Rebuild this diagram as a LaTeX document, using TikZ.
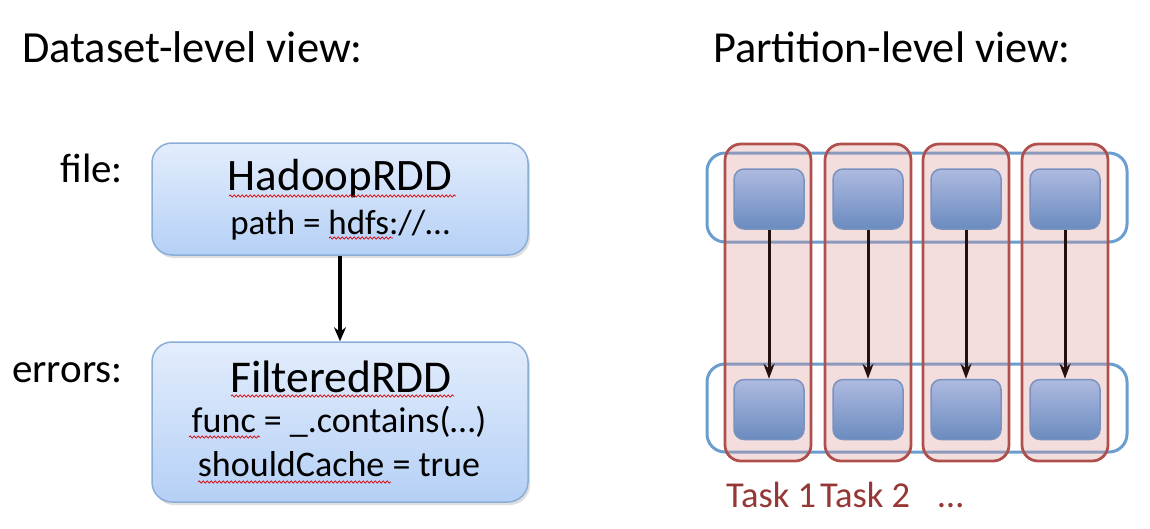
\documentclass[tikz,border=0pt]{standalone}
\usepackage{fontspec}
\setmainfont{Carlito}
\usetikzlibrary{arrows.meta,shadows,decorations.pathmorphing}
\definecolor{boxtop}{HTML}{E3EDFC}
\definecolor{boxbot}{HTML}{B5D0F6}
\definecolor{boxline}{HTML}{8AAED8}
\definecolor{rowblue}{HTML}{6A9ED0}
\definecolor{colred}{HTML}{B0504D}
\definecolor{colfill}{HTML}{D9918F}
\definecolor{sqtop}{HTML}{AEBAE0}
\definecolor{sqbot}{HTML}{6A8BBF}
\definecolor{sqline}{HTML}{7A93BE}
\definecolor{tasktext}{HTML}{953734}
\definecolor{parrow}{HTML}{231010}
\newcommand\fsz[1]{\fontsize{#1}{#1}\selectfont}
\tikzset{
  rddbox/.style={draw=boxline, line width=1.5pt, rounded corners=20pt,
    top color=boxtop, bottom color=boxbot,
    drop shadow={shadow xshift=2pt, shadow yshift=-3pt, opacity=0.25}},
  rowbox/.style={draw=rowblue, line width=3pt, rounded corners=18pt, minimum width=420pt},
  taskcol/.style={draw=colred, line width=2.8pt, rounded corners=16pt,
    fill=colfill, fill opacity=0.3, minimum width=86pt, minimum height=317pt},
  part/.style={draw=sqline, line width=1.5pt, rounded corners=10pt,
    top color=sqtop, bottom color=sqbot, minimum width=70pt, minimum height=60pt},
  larr/.style={line width=3.2pt, -{Stealth[length=14pt,width=12pt]}},
  parr/.style={draw=parrow, line width=3pt, -{Stealth[length=15pt,width=11pt]}},
  squig/.style={draw=red!85!black, line width=0.7pt,
    decorate, decoration={snake, segment length=4pt, amplitude=1.1pt}},
  txt/.style={anchor=base, inner sep=0pt},
}
\begin{document}
\begin{tikzpicture}[x=1pt,y=-1pt]
\useasboundingbox (0,0) rectangle (1150,528);

% headings
\node[txt, anchor=base west, font=\fsz{44.5}] (h1) at (22,62) {Dataset-level view:};
\node[txt, anchor=base west, font=\fsz{44.3}] (h2) at (713,62) {Partition-level view:};

% left side
\node[txt, anchor=base east, font=\fsz{41}] (lfile) at (123,182) {file:};
\node[txt, anchor=base east, font=\fsz{41}] (lerr) at (123,382) {errors:};

\node[rddbox, minimum width=376pt, minimum height=112pt] (hadoop) at (340,199) {};
\node[rddbox, minimum width=376pt, minimum height=160pt] (filtered) at (340,422) {};

\node[txt, font=\fsz{45}] (hname) at (340,190) {HadoopRDD};
\node[txt, font=\fsz{35}] (hpath) at (340,234) {path = hdfs://…};
\node[txt, font=\fsz{45.5}] (fname) at (341,392) {FilteredRDD};
\node[txt, font=\fsz{36}] (ffunc) at (339,432) {func = \_.contains(…)};
\node[txt, font=\fsz{36}] (fcache) at (339,476) {shouldCache = true};

% spell-check squiggles
\draw[squig] (229,196) -- (456,196);
\draw[squig] (329,238) -- (393,238);
\draw[squig] (231,396) -- (454,396);
\draw[squig] (189,437) -- (260,437);
\draw[squig] (198,482) -- (391,482);

\draw[larr] (hadoop.south) -- (filtered.north);

% right side
\node[rowbox, minimum height=89pt] (row1) at (917,197.5) {};
\node[rowbox, minimum height=88pt] (row2) at (917,408) {};

\foreach \i/\x in {1/768,2/868,3/966,4/1065}{
  \node[taskcol] (col\i) at (\x,302.5) {};
}
\foreach \i/\x in {1/769,2/868,3/966,4/1065}{
  \node[part] (top\i) at (\x,199) {};
  \node[part] (bot\i) at (\x,409.5) {};
  \draw[parr] (top\i.south) -- (bot\i.north);
}

\node[txt, anchor=base west, font=\fsz{36.5}, text=tasktext] (task1) at (726,507) {Task 1};
\node[txt, anchor=base west, font=\fsz{36.5}, text=tasktext] (task2) at (820,507) {Task 2};
\node[txt, anchor=base west, font=\fsz{36.5}, text=tasktext] (taskmore) at (938,507) {…};
\end{tikzpicture}
\end{document}
